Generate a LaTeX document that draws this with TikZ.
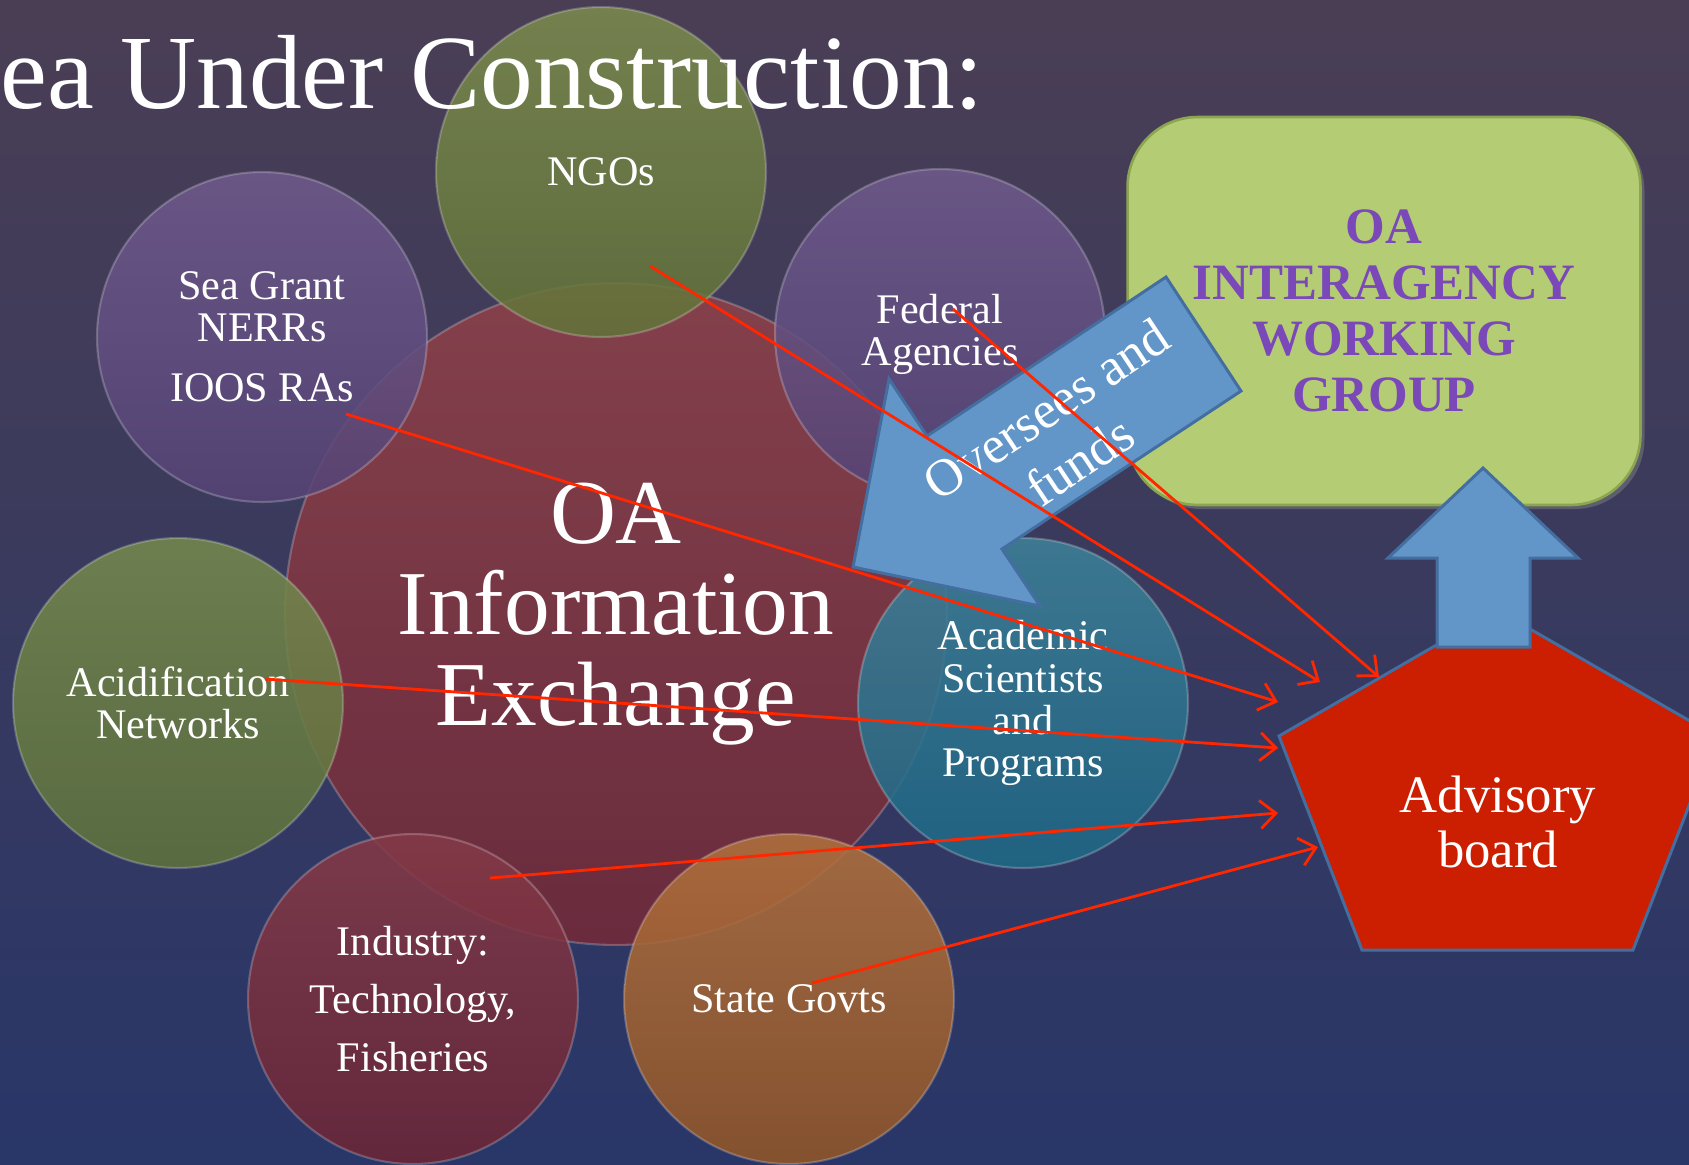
\documentclass[tikz,border=0pt]{standalone}
\usepackage{fontspec}
\setmainfont{Liberation Serif}
\usepackage{tikz}
\usepackage[dvipsnames]{xcolor}
\usetikzlibrary{arrows.meta,shadows}

\definecolor{bgtop}{RGB}{74,62,84}
\definecolor{bgbot}{RGB}{40,54,104}
\definecolor{ngotop}{RGB}{122,138,78}
\definecolor{ngobot}{RGB}{98,114,56}
\definecolor{purtop}{RGB}{110,90,140}
\definecolor{purbot}{RGB}{86,68,118}
\definecolor{oatop}{RGB}{142,66,74}
\definecolor{oabot}{RGB}{114,42,56}
\definecolor{acidtop}{RGB}{116,136,78}
\definecolor{acidbot}{RGB}{94,114,60}
\definecolor{acatop}{RGB}{62,128,152}
\definecolor{acabot}{RGB}{30,104,134}
\definecolor{indtop}{RGB}{132,58,72}
\definecolor{indbot}{RGB}{108,38,54}
\definecolor{statetop}{RGB}{176,112,62}
\definecolor{statebot}{RGB}{146,86,40}
\definecolor{iwggreen}{RGB}{180,204,116}
\definecolor{iwgedge}{RGB}{140,165,80}
\definecolor{iwgpurple}{RGB}{122,72,184}
\definecolor{arrowblue}{RGB}{98,150,201}
\definecolor{arrowedge}{RGB}{68,110,160}
\definecolor{advred}{RGB}{204,30,0}
\definecolor{feedred}{RGB}{255,38,0}

\tikzset{
    bubble/.style={circle, inner sep=0pt, minimum size=6.6cm, align=center, text=white, font=\fontsize{24}{24}\selectfont, draw=white, draw opacity=0.22, line width=1.2pt, fill opacity=0.88, text opacity=1},
    blueshape/.style={fill=arrowblue, draw=arrowedge, line width=1.7pt},
    feed/.style={draw=feedred, line width=1.6pt, -{Straight Barb[length=9pt,width=16pt]}}
}

\begin{document}
\begin{tikzpicture}[x=0.02cm, y=-0.02cm]
        \useasboundingbox (0,0) rectangle (1689,1164);
        \fill[top color=bgtop, bottom color=bgbot] (0,0) rectangle (1689,1164);

        \node[bubble, minimum size=13.24cm, top color=oatop, bottom color=oabot, font=\fontsize{52}{52}\selectfont] (oaie) at (616,614) {OA\\Information\\Exchange};

        \node[bubble, top color=ngotop, bottom color=ngobot] (ngos) at (601,172) {NGOs};
        \node[bubble, top color=purtop, bottom color=purbot] (seagrant) at (262,337) {Sea Grant\\NERRs\\[10pt]IOOS RAs};
        \node[bubble, top color=purtop, bottom color=purbot] (federal) at (940,334) {Federal\\Agencies};
        \node[bubble, top color=acidtop, bottom color=acidbot] (acid) at (178,703) {Acidification\\Networks};
        \node[bubble, top color=acatop, bottom color=acabot] (academic) at (1023,703) {Academic\\Scientists\\and\\Programs};
        \node[bubble, top color=indtop, bottom color=indbot] (industry) at (413,999) {Industry:\\[9pt]Technology,\\[9pt]Fisheries};
        \node[bubble, top color=statetop, bottom color=statebot] (states) at (789,999) {State Govts};

        \node[anchor=base west, inner sep=0pt, text=white, font=\fontsize{60}{60}\selectfont] (title) at (0,108) {ea Under Construction:};

        \node[rounded corners=1.4cm, minimum width=10.26cm, minimum height=7.76cm, fill=iwggreen, draw=iwgedge, line width=1.5pt, drop shadow={opacity=0.5}, text=iwgpurple, font=\bfseries\fontsize{29}{32}\selectfont, align=center] (iwg) at (1384,311) {OA\\INTERAGENCY\\WORKING\\GROUP};

        \filldraw[fill=advred, draw=arrowedge, line width=1.7pt] (1497,610) -- (1716,736) -- (1633,950) -- (1362,950) -- (1279,736) -- cycle;
        \node[text=white, font=\fontsize{30}{31}\selectfont, align=center] (advisory) at (1498,822) {Advisory\\board};

        \filldraw[blueshape] (1483,468) -- (1578,558) -- (1530,558) -- (1530,647) -- (1437,647) -- (1437,558) -- (1388,558) -- cycle;
        \filldraw[blueshape] (853,567) -- (889,379) -- (927,436) -- (1166,277) -- (1241,391) -- (1002,549) -- (1040,606) -- cycle;
        \node[rotate=33.7, text=white, font=\fontsize{30}{35}\selectfont, align=center] (oversees) at (1063,435) {Oversees and\\funds};

        \coordinate (ngos-out) at (650,266);
        \coordinate (federal-out) at (953,309);
        \coordinate (seagrant-out) at (346,414);
        \coordinate (acid-out) at (265,679);
        \coordinate (industry-out) at (490,878);
        \coordinate (states-out) at (812,983);
        \coordinate (advisory-a) at (1320,682);
        \coordinate (advisory-b) at (1379,677);
        \coordinate (advisory-c) at (1278,702);
        \coordinate (advisory-d) at (1278,748);
        \coordinate (advisory-e) at (1278,813);
        \coordinate (advisory-f) at (1318,847);

        \draw[feed] (ngos-out) -- (advisory-a);
        \draw[feed] (federal-out) -- (advisory-b);
        \draw[feed] (seagrant-out) -- (advisory-c);
        \draw[feed] (acid-out) -- (advisory-d);
        \draw[feed] (industry-out) -- (advisory-e);
        \draw[feed] (states-out) -- (advisory-f);
    \end{tikzpicture}
\end{document}
